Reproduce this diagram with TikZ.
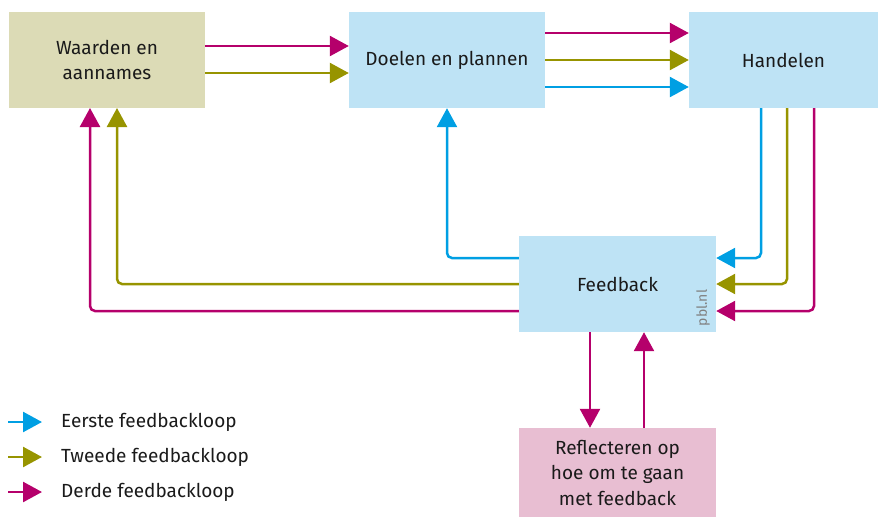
\documentclass[tikz,border=0pt]{standalone}
\usepackage{fontspec}
\setmainfont{Fira Sans}
\usetikzlibrary{arrows.meta,calc}
\definecolor{loopA}{HTML}{009FE3}
\definecolor{loopB}{HTML}{979400}
\definecolor{loopC}{HTML}{B5006B}
\definecolor{boxBlue}{HTML}{BEE3F5}
\definecolor{boxOlive}{HTML}{DCDBB6}
\definecolor{boxPink}{HTML}{E8BED2}
\definecolor{ink}{HTML}{1A1A1A}
\tikzset{
  box/.style={rectangle, inner sep=0pt, minimum width=196pt, minimum height=96pt,
    align=center, text=ink, font=\fontsize{19}{25.5}\selectfont},
  arr/.style={line width=2.5pt, rounded corners=5pt,
    -{Triangle[length=19pt,width=20pt]}},
  legtext/.style={anchor=west, text=ink, font=\fontsize{19}{22}\selectfont, inner sep=0pt}
}
\begin{document}
\begin{tikzpicture}[x=1pt,y=-1pt]
\useasboundingbox (0,0) rectangle (878,517);

% boxes
\node[box, fill=boxOlive] (waarden) at (107,60) {Waarden en\\aannames};
\node[box, fill=boxBlue] (doelen) at (447,60) {Doelen en plannen};
\node[box, fill=boxBlue, minimum width=189pt] (handelen) at (783.5,60) {Handelen};
\node[box, fill=boxBlue, minimum width=197pt] (feedback) at (617.5,284) {Feedback};
\node[box, fill=boxPink, minimum width=197pt, minimum height=89pt] (reflect) at (617.5,472.5) {Reflecteren op\\hoe om te gaan\\met feedback};
\node[rotate=90, text=gray, font=\fontsize{14}{14}\selectfont, inner sep=0pt] (pbl) at (703,308) {pbl.nl};

% waarden -> doelen
\coordinate (w1) at ($(waarden.east)+(0,-14)$);
\coordinate (w2) at ($(waarden.east)+(0,13)$);
\draw[arr, loopC] (w1) -- (w1 -| doelen.west);
\draw[arr, loopB] (w2) -- (w2 -| doelen.west);

% doelen -> handelen
\coordinate (d1) at ($(doelen.east)+(0,-27)$);
\coordinate (d2) at ($(doelen.east)+(0,0)$);
\coordinate (d3) at ($(doelen.east)+(0,27)$);
\draw[arr, loopC] (d1) -- (d1 -| handelen.west);
\draw[arr, loopB] (d2) -- (d2 -| handelen.west);
\draw[arr, loopA] (d3) -- (d3 -| handelen.west);

% handelen -> feedback
\coordinate (h1) at (761,108);
\coordinate (h2) at (787,108);
\coordinate (h3) at (814,108);
\coordinate (f1) at ($(feedback.east)+(0,-26)$);
\coordinate (f2) at ($(feedback.east)+(0,0)$);
\coordinate (f3) at ($(feedback.east)+(0,27)$);
\draw[arr, loopA] (h1) |- (f1);
\draw[arr, loopB] (h2) |- (f2);
\draw[arr, loopC] (h3) |- (f3);

% feedback -> doelen / waarden
\coordinate (g1) at ($(feedback.west)+(0,-26)$);
\coordinate (g2) at ($(feedback.west)+(0,0)$);
\coordinate (g3) at ($(feedback.west)+(0,27)$);
\draw[arr, loopA] (g1) -| (doelen.south);
\draw[arr, loopB] (g2) -| (117,108);
\draw[arr, loopC] (g3) -| (90,108);

% feedback <-> reflecteren
\coordinate (r1) at (590,332);
\coordinate (r2) at (644,428);
\draw[arr, loopC] (r1) -- (r1 |- reflect.north);
\draw[arr, loopC] (r2) -- (r2 |- feedback.south);

% legend
\coordinate (la) at (8,422);
\coordinate (lb) at (8,457);
\coordinate (lc) at (8,492);
\draw[arr, loopA] (la) -- ++(34,0);
\draw[arr, loopB] (lb) -- ++(34,0);
\draw[arr, loopC] (lc) -- ++(34,0);
\node[legtext] (ta) at (61,422) {Eerste feedbackloop};
\node[legtext] (tb) at (61,457) {Tweede feedbackloop};
\node[legtext] (tc) at (61,492) {Derde feedbackloop};
\end{tikzpicture}
\end{document}
